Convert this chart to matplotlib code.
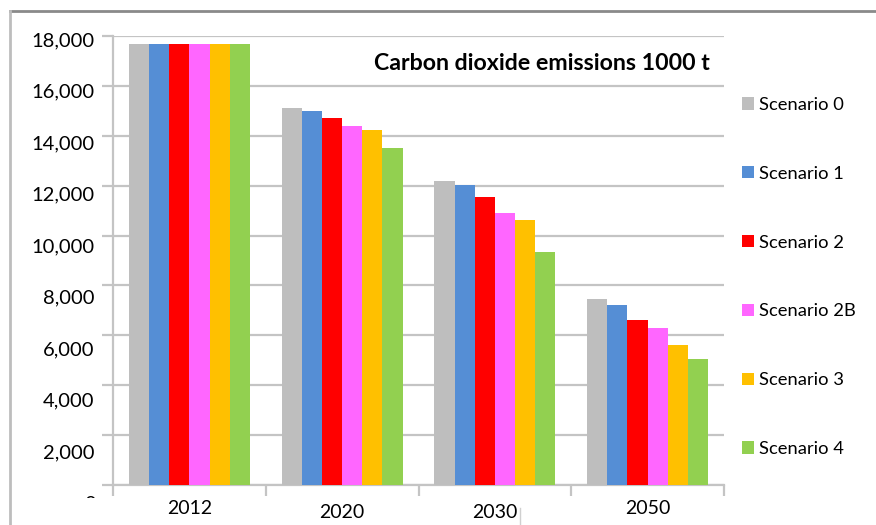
import numpy as np
import matplotlib
matplotlib.use("Agg")
import matplotlib.pyplot as plt
from matplotlib.lines import Line2D
from matplotlib.transforms import blended_transform_factory, Bbox

# data
years = ["2012", "2020", "2030", "2050"]
scenarios = ["Scenario 0", "Scenario 1", "Scenario 2", "Scenario 2B", "Scenario 3", "Scenario 4"]
scen0 = [17670, 15100, 12200, 7450]
scen1 = [17670, 14980, 12030, 7220]
scen2 = [17670, 14710, 11530, 6615]
scen2b = [17670, 14390, 10920, 6285]
scen3 = [17670, 14230, 10620, 5600]
scen4 = [17670, 13520, 9350, 5070]
colors = ["#BEBEBE", "#558ED5", "#FF0000", "#FF66FF", "#FFC000", "#92D050"]
yticks = list(range(0, 18001, 2000))

plt.rcParams['font.family'] = ['Lato', 'DejaVu Sans']

fig = plt.figure(figsize=(8.76, 5.25), dpi=100)
ax = fig.add_axes([113 / 876, 1 - 485 / 525, (724 - 113) / 876, (485 - 36) / 525])

series = [scen0, scen1, scen2, scen2b, scen3, scen4]
x = np.arange(len(years))
w = 0.132
for i, (vals, c, lab) in enumerate(zip(series, colors, scenarios)):
    ax.bar(x + (i - 2.5) * w, vals, w, color=c, label=lab, zorder=3)

ax.set_xlim(-0.5, 3.5)
ax.set_ylim(0, 18000)
ax.set_yticks(yticks)
ax.set_yticklabels([])
ax.yaxis.grid(True, color="#C4C4C4", linewidth=1.6, zorder=0)
ax.tick_params(axis="y", length=8, width=1.6, color="#C4C4C4")
ax.set_xticks(np.arange(-0.5, 3.6, 1))
ax.set_xticklabels([])
ax.tick_params(axis="x", length=8, width=1.6, color="#C4C4C4")
for s in ["top", "right"]:
    ax.spines[s].set_visible(False)
for s in ["left", "bottom"]:
    ax.spines[s].set_color("#C4C4C4")
    ax.spines[s].set_linewidth(1.6)

# y labels sit on a slightly stretched scale in the picture
ax2 = ax.twinx()
ax2.yaxis.tick_left()
ax2.set_ylim(680, 18117)
ax2.set_yticks(yticks[1:])
ax2.set_yticklabels([f"{v:,}" for v in yticks[1:]], fontsize=14.5)
ax2.tick_params(axis="y", length=0, pad=13.5)
for s in ax2.spines.values():
    s.set_visible(False)

# the half-hidden "0" label
t0 = fig.text(96 / 876, 1 - 504 / 525, "0", fontsize=14.5, ha="right", va="center")
t0.set_clip_on(True)
t0.set_clip_box(Bbox.from_extents(0, 525 - 498, 876, 525))

# year labels, slightly uneven heights as in the picture
trans = blended_transform_factory(ax.transData, fig.transFigure)
label_y = [508, 513, 512, 508]
for xi, yr, py in zip(x, years, label_y):
    ax.text(xi, 1 - py / 525, yr, transform=trans, fontsize=14, ha="center", va="center")

ax.text(1 - 14 / 611, 1 - 27 / 449, "Carbon dioxide emissions 1000 t", transform=ax.transAxes,
        fontsize=16.7, fontweight="bold", ha="right", va="center")

ax.legend(loc="upper left", bbox_to_anchor=(742 / 876, 1 - 97 / 525),
          bbox_transform=fig.transFigure, frameon=False, fontsize=13.2,
          handlelength=0.65, handleheight=0.65, handletextpad=0.3,
          labelspacing=2.88, borderpad=0, borderaxespad=0)

# outer chart frame
fig.add_artist(Line2D([10 / 876, 1], [1 - 11 / 525] * 2, color="#8A8A8A", linewidth=2))
fig.add_artist(Line2D([10 / 876] * 2, [0, 1 - 11 / 525], color="#BDBDBD", linewidth=2))
fig.add_artist(Line2D([520 / 876] * 2, [0, 1 - 508 / 525], color="#D0D0D0", linewidth=1))

fig.savefig("out.png", dpi=100)
